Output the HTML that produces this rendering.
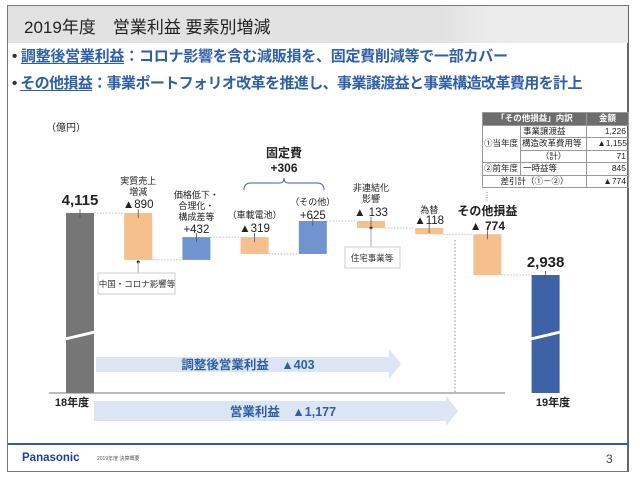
<!DOCTYPE html>
<html><head><meta charset="utf-8">
<style>
body{margin:0;width:640px;height:483px;background:#fff;font-family:"Liberation Sans","Noto Sans CJK JP",sans-serif;position:relative;overflow:hidden}
.abs{position:absolute}
#frame{left:7px;top:5px;width:622px;height:467px;border:1px solid #777;border-right:2px solid #666;box-sizing:border-box}
#header{left:8px;top:6px;width:620px;height:37px;background:linear-gradient(90deg,#e2e2e2 0%,#e2e2e2 70%,#ececec 78%,#ececec 100%)}
#title{left:24px;top:13px;font-size:17px;color:#222}
.bullet{left:12px;font-size:15px;font-weight:bold;color:#2e5fa8;white-space:nowrap}
.bullet u{text-underline-offset:2px}
table{border-collapse:collapse;font-size:8.5px;color:#222;table-layout:fixed}
td{border:1px solid #999;padding:0 2px;height:11.5px;line-height:11px;white-space:nowrap;overflow:hidden}
</style></head><body>
<div id="frame" class="abs"></div>
<div id="header" class="abs"></div>
<div id="title" class="abs">2019年度　営業利益 要素別増減</div>
<div class="abs bullet" style="top:45px;letter-spacing:-0.25px"><span style="color:#333">• </span><u>調整後営業利益</u>：コロナ影響を含む減販損を、固定費削減等で一部カバー</div>
<div class="abs bullet" style="top:72px;letter-spacing:-0.6px"><span style="color:#333">• </span><u>その他損益</u>：事業ポートフォリオ改革を推進し、事業譲渡益と事業構造改革費用を計上</div>

<table class="abs" style="left:482px;top:112px;width:146px">
<colgroup><col style="width:38px"><col style="width:66px"><col style="width:42px"></colgroup>
<tr style="background:#6d6d6d;color:#fff;font-weight:bold"><td colspan="2" style="text-align:center">「その他損益」内訳</td><td style="text-align:center">金額</td></tr>
<tr><td rowspan="3" style="padding:0 1px">①当年度</td><td>事業譲渡益</td><td style="text-align:right">1,226</td></tr>
<tr><td style="padding:0 1px">構造改革費用等</td><td style="text-align:right;padding:0 1px">▲1,155</td></tr>
<tr><td style="text-align:center">（計）</td><td style="text-align:right">71</td></tr>
<tr><td style="padding:0 1px">②前年度</td><td>一時益等</td><td style="text-align:right">845</td></tr>
<tr><td colspan="2" style="text-align:center">差引計（①－②）</td><td style="text-align:right">▲774</td></tr>
</table>

<svg class="abs" style="left:0;top:0" width="640" height="483" id="chart">
<text x="46" y="131" font-size="10" fill="#222">（億円）</text>
<g id="marks"></g>
<line x1="8" y1="444" x2="628" y2="444" stroke="#3d57a8" stroke-width="2"/>
<text x="22" y="461" font-size="11.5" font-weight="bold" fill="#1f3f9c">Panasonic</text>
<text x="97" y="460" font-size="5" fill="#555">2019年度 決算概要</text>
<text x="606" y="463" font-size="12" fill="#444">3</text>
</svg>

<script>
const categories=["18年度","実質売上増減","価格低下・合理化・構成差等","車載電池","その他","非連結化影響","為替","その他損益","19年度"];
const values=[4115,-890,432,-319,625,-133,-118,-774,2938];
const valueLabels=["4,115","▲890","+432","▲319","+625","▲ 133","▲118","▲ 774","2,938"];
const NS="http://www.w3.org/2000/svg";
const g=document.getElementById('marks');
const Y0=213,K=0.0527,BASE=393;
function y(v){return Y0-(v-values[0])*K;}
function xc(i){return 80+i*58.2;}
const W=28;
function mk(tag,attrs,parent){const e=document.createElementNS(NS,tag);for(const k in attrs)e.setAttribute(k,attrs[k]);(parent||g).appendChild(e);return e;}
function txt(x,yy,s,size,bold,anchor,color,name){const t=mk('text',{x:x,y:yy,'font-size':size,'font-weight':bold?'bold':'normal','text-anchor':anchor||'middle',fill:color||'#222'});t.textContent=s;


return t;}
let run=0;
for(let i=0;i<values.length;i++){
  let top,bot,color;
  if(i===0||i===values.length-1){run=values[i];top=y(values[i]);bot=BASE;color=i===0?'#767676':'#3d62a5';}
  else{const prev=run;run+=values[i];top=y(Math.max(prev,run));bot=y(Math.min(prev,run));color=values[i]<0?'#f5c08e':'#7094cf';}
  const r=mk('rect',{x:xc(i)-W/2,y:top,width:W,height:bot-top,fill:color});
  
  
  mk('line',{x1:xc(i),y1:top-4,x2:xc(i),y2:top+5,stroke:'#555','stroke-width':0.8});
  if(i<values.length-1){
    const ln=mk('line',{x1:xc(i)+W/2,y1:y(run),x2:xc(i+1)-W/2,y2:y(run),stroke:'#aaa','stroke-width':0.8,'stroke-dasharray':'1.5,1.5'});
    
    
  }
  if(i===0||i===values.length-1){
    mk('polygon',{points:`${xc(i)-17},${338} ${xc(i)+17},${330} ${xc(i)+17},${333} ${xc(i)-17},${341}`,fill:'#fff'});
    txt(xc(i),top-8,valueLabels[i],15,true,'middle','#222','total-label-'+i);
  }
}
const cx=xc;
txt(cx(1),184,"実質売上",9,false,'middle','#222','cat-label-1a');
txt(cx(1),195,"増減",9,false,'middle','#222','cat-label-1b');
txt(cx(1),208,valueLabels[1],11.5,false,'middle','#222','value-label-1');
txt(cx(2),198,"価格低下・",9,false,'middle','#222','cat-label-2a');
txt(cx(2),209,"合理化・",9,false,'middle','#222','cat-label-2b');
txt(cx(2),220,"構成差等",9,false,'middle','#222','cat-label-2c');
txt(cx(2),233,valueLabels[2],11.5,false,'middle','#222','value-label-2');
txt(cx(3),218,"（車載電池）",9,false,'middle','#222','cat-label-3');
txt(cx(3),232,valueLabels[3],11.5,false,'middle','#222','value-label-3');
txt(cx(4),205,"（その他）",9,false,'middle','#222','cat-label-4');
txt(cx(4),219,valueLabels[4],11.5,false,'middle','#222','value-label-4');
txt(cx(5),191,"非連結化",9,false,'middle','#222','cat-label-5a');
txt(cx(5),202,"影響",9,false,'middle','#222','cat-label-5b');
txt(cx(5),216,valueLabels[5],11.5,false,'middle','#222','value-label-5');
txt(cx(6),213,"為替",9,false,'middle','#222','cat-label-6');
txt(cx(6),224,valueLabels[6],11.5,false,'middle','#222','value-label-6');
txt(cx(7),215,"その他損益",12,true,'middle','#222','cat-label-7');
txt(cx(7),230,valueLabels[7],12,true,'middle','#222','value-label-7');
txt(284,157,"固定費",12,true,'middle','#222','fixed-cost-title');
txt(284,172,"+306",12,true,'middle','#222','fixed-cost-value');
mk('path',{d:"M244,190 Q244,183 251,183 L280,183 Q284,183 284,178 Q284,183 288,183 L317,183 Q324,183 324,190",fill:'none',stroke:'#3d62a5','stroke-width':1});
mk('circle',{cx:cx(1),cy:262,r:1.5,fill:'#222'});
mk('line',{x1:cx(1),y1:262,x2:cx(1),y2:275,stroke:'#aaa'});
const b1=mk('rect',{x:98,y:273,width:77,height:21,fill:'#fff',stroke:'#ccc'});


txt(137,287,"中国・コロナ影響等",8.5,false,'middle','#333','callout-china');
mk('circle',{cx:cx(5),cy:228,r:1.5,fill:'#222'});
mk('line',{x1:cx(5),y1:228,x2:cx(5),y2:247,stroke:'#aaa'});
const b2=mk('rect',{x:345,y:247,width:55,height:21,fill:'#fff',stroke:'#ccc'});


txt(372,261,"住宅事業等",8.5,false,'middle','#333','callout-housing');
mk('line',{x1:455,y1:240,x2:455,y2:392,stroke:'#777','stroke-width':0.8,'stroke-dasharray':'1.5,2'});
mk('line',{x1:487,y1:192,x2:487,y2:202,stroke:'#555','stroke-width':0.8,'stroke-dasharray':'1,1.5'});
const a1=mk('polygon',{points:"96,357 389,357 389,349 401,364 389,379 389,372 96,372",fill:'#dbe5f4'});


txt(248,369,"調整後営業利益　▲403",12.5,true,'middle','#2e5fa8','adjusted-profit-label');
const ax=mk('line',{x1:49,y1:393,x2:505,y2:393,stroke:'#777','stroke-width':1});


const a2=mk('polygon',{points:"94,401 446,401 446,396 458,411 446,426 446,421 94,421",fill:'#dbe5f4'});


txt(283,416,"営業利益　▲1,177",12.5,true,'middle','#2e5fa8','operating-profit-label');
txt(72,406,categories[0],11,true,'middle','#222','x-label-fy18');
txt(553,406,categories[8],11,true,'middle','#222','x-label-fy19');
</script>
</body></html>
